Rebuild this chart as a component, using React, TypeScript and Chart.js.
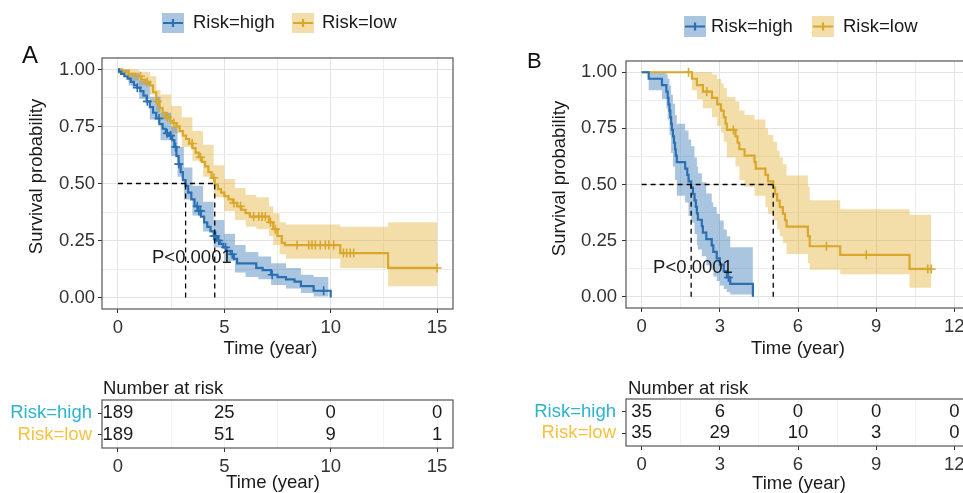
import React, { useEffect, useRef } from "react";
import { Chart, registerables } from "chart.js";

Chart.register(...registerables);

const FONT = "'Liberation Sans', Arial, Helvetica, sans-serif";
const FS = 18.5;

// ---------------- shared text ----------------
const groupLabels = ["Risk=high", "Risk=low"];
const pValueText = "P<0.0001";
const xTitleText = "Time (year)";
const yTitleText = "Survival probability";
const tableTitleText = "Number at risk";
const yMajor = [0, 0.25, 0.5, 0.75, 1];
const yMinor = [0.125, 0.375, 0.625, 0.875];

// ---------------- Panel A data ----------------
const aXMajor = [0, 5, 10, 15];
const aXMinor = [2.5, 7.5, 12.5];

const aHighTime = [0, 0.05, 0.15, 0.3, 0.45, 0.6, 0.75, 0.9, 1.05, 1.2, 1.35, 1.5, 1.65, 1.8, 1.95, 2.1, 2.25, 2.4, 2.55, 2.65, 2.75, 2.85, 2.95, 3.05, 3.18, 3.3, 3.45, 3.6, 3.75, 3.9, 4.05, 4.2, 4.35, 4.5, 4.65, 4.8, 4.95, 5.1, 5.3, 5.45, 5.6, 6.5, 6.8, 7.2, 7.5, 7.9, 8.3, 8.6, 9.2, 10.0];
const aHighSurv = [1, 0.99, 0.98, 0.97, 0.96, 0.945, 0.93, 0.92, 0.905, 0.885, 0.86, 0.835, 0.81, 0.785, 0.76, 0.74, 0.72, 0.71, 0.69, 0.66, 0.62, 0.585, 0.55, 0.515, 0.49, 0.46, 0.43, 0.4, 0.38, 0.355, 0.33, 0.31, 0.29, 0.27, 0.25, 0.235, 0.22, 0.205, 0.19, 0.17, 0.15, 0.13, 0.12, 0.1, 0.09, 0.08, 0.07, 0.05, 0.03, 0];
const aHighBandTime = [0, 0.5, 1.0, 1.5, 2.0, 2.5, 2.8, 3.1, 3.5, 4.0, 4.5, 5.0, 5.5, 6.0, 6.6, 7.2, 7.9, 8.6, 9.2, 9.9];
const aHighLower = [0.985, 0.93, 0.87, 0.78, 0.69, 0.62, 0.53, 0.43, 0.36, 0.29, 0.22, 0.16, 0.11, 0.09, 0.08, 0.055, 0.04, 0.02, 0.005, 0.005];
const aHighUpper = [1, 0.985, 0.95, 0.88, 0.81, 0.75, 0.66, 0.57, 0.49, 0.42, 0.34, 0.28, 0.23, 0.2, 0.18, 0.15, 0.13, 0.1, 0.09, 0.09];
const aHighCensor = [0.91, 1.38, 1.93, 2.32, 2.47, 2.71, 2.86, 3.73, 3.8, 3.88, 4.51, 4.59, 4.74, 5.06, 5.37, 7.25, 9.67];

const aLowTime = [0, 0.2, 0.5, 0.8, 1.1, 1.3, 1.5, 1.65, 1.8, 1.95, 2.1, 2.3, 2.45, 2.6, 2.75, 2.9, 3.05, 3.2, 3.35, 3.5, 3.65, 3.8, 3.95, 4.1, 4.25, 4.4, 4.55, 4.7, 4.85, 5.0, 5.2, 5.4, 5.6, 5.8, 6.0, 6.2, 7.1, 7.3, 7.5, 7.7, 7.85, 10.45, 12.7, 15.0];
const aLowSurv = [1, 0.99, 0.98, 0.97, 0.955, 0.945, 0.93, 0.9, 0.86, 0.83, 0.81, 0.79, 0.775, 0.765, 0.75, 0.73, 0.71, 0.695, 0.675, 0.655, 0.635, 0.615, 0.595, 0.575, 0.55, 0.525, 0.495, 0.475, 0.46, 0.445, 0.43, 0.415, 0.4, 0.385, 0.37, 0.355, 0.33, 0.3, 0.27, 0.24, 0.23, 0.195, 0.13, 0.13];
const aLowBandTime = [0, 0.5, 1.0, 1.5, 1.8, 2.0, 2.5, 3.0, 3.5, 4.0, 4.5, 5.0, 5.5, 6.0, 6.5, 7.1, 7.3, 7.6, 7.9, 10.45, 12.7, 15.0];
const aLowLower = [0.98, 0.95, 0.93, 0.89, 0.81, 0.78, 0.72, 0.66, 0.6, 0.53, 0.44, 0.38, 0.34, 0.31, 0.3, 0.27, 0.23, 0.19, 0.17, 0.13, 0.05, 0.05];
const aLowUpper = [1, 1, 0.99, 0.97, 0.91, 0.89, 0.84, 0.79, 0.73, 0.67, 0.58, 0.52, 0.48, 0.45, 0.44, 0.4, 0.37, 0.33, 0.32, 0.31, 0.33, 0.33];
const aLowCensor = [0.52, 1.06, 1.38, 1.85, 2.32, 2.63, 3.49, 3.88, 4.51, 5.45, 5.76, 6.38, 6.62, 6.78, 6.93, 7.17, 7.4, 8.42, 8.97, 9.12, 9.28, 9.51, 9.75, 9.91, 10.14, 10.6, 10.75, 10.92, 11.08, 15.0];

const aMedians = [3.18, 4.55];
const aPValuePos = [1.6, 0.175];
const aRiskTimes = [0, 5, 10, 15];
const aRiskHigh = [189, 25, 0, 0];
const aRiskLow = [189, 51, 9, 1];

// ---------------- Panel B data ----------------
const bXMajor = [0, 3, 6, 9, 12];
const bXMinor = [1.5, 4.5, 7.5, 10.5];

const bHighTime = [0, 0.27, 0.78, 0.95, 1.0, 1.03, 1.07, 1.1, 1.13, 1.16, 1.2, 1.24, 1.28, 1.31, 1.35, 1.67, 1.75, 1.8, 1.9, 1.97, 2.03, 2.08, 2.12, 2.16, 2.31, 2.35, 2.48, 2.69, 2.75, 2.88, 3.0, 3.15, 3.27, 3.4, 4.27];
const bHighSurv = [1, 0.971, 0.943, 0.914, 0.886, 0.857, 0.829, 0.8, 0.771, 0.743, 0.714, 0.686, 0.657, 0.629, 0.6, 0.571, 0.543, 0.514, 0.486, 0.457, 0.429, 0.4, 0.371, 0.343, 0.314, 0.286, 0.257, 0.229, 0.2, 0.171, 0.143, 0.114, 0.086, 0.057, 0];
const bHighBandTime = [0, 0.27, 0.78, 0.95, 1.0, 1.07, 1.13, 1.2, 1.28, 1.35, 1.67, 1.8, 1.9, 2.03, 2.12, 2.16, 2.31, 2.48, 2.69, 2.75, 2.88, 3.0, 3.15, 3.27, 3.4, 4.27];
const bHighLower = [1, 0.92, 0.88, 0.84, 0.79, 0.72, 0.64, 0.58, 0.52, 0.45, 0.42, 0.36, 0.33, 0.28, 0.23, 0.21, 0.18, 0.14, 0.12, 0.09, 0.07, 0.05, 0.035, 0.02, 0.01, 0.01];
const bHighUpper = [1, 1, 1, 0.99, 0.97, 0.94, 0.9, 0.86, 0.81, 0.77, 0.74, 0.7, 0.67, 0.62, 0.58, 0.55, 0.51, 0.46, 0.42, 0.4, 0.37, 0.34, 0.3, 0.27, 0.22, 0.22];
const bHighCensor = [3.33];

const bLowTime = [0, 1.93, 2.12, 2.35, 2.7, 2.9, 3.05, 3.15, 3.22, 3.27, 3.6, 3.68, 3.75, 3.95, 4.33, 4.38, 4.75, 4.85, 5.05, 5.12, 5.2, 5.3, 5.42, 5.5, 5.56, 6.38, 6.45, 7.62, 10.28, 11.11];
const bLowSurv = [1, 0.971, 0.943, 0.914, 0.886, 0.857, 0.829, 0.8, 0.771, 0.743, 0.714, 0.686, 0.657, 0.629, 0.6, 0.571, 0.543, 0.514, 0.486, 0.457, 0.428, 0.399, 0.37, 0.341, 0.312, 0.27, 0.225, 0.187, 0.124, 0.124];
const bLowBandTime = [0, 1.93, 2.12, 2.35, 2.7, 2.9, 3.05, 3.15, 3.27, 3.6, 3.75, 3.95, 4.33, 4.75, 4.85, 5.05, 5.2, 5.3, 5.42, 5.56, 6.38, 6.45, 7.62, 10.28, 11.11];
const bLowLower = [1, 0.92, 0.88, 0.84, 0.8, 0.76, 0.73, 0.69, 0.62, 0.58, 0.52, 0.49, 0.45, 0.4, 0.37, 0.34, 0.3, 0.27, 0.24, 0.19, 0.15, 0.12, 0.1, 0.04, 0.04];
const bLowUpper = [1, 1, 1, 1, 0.99, 0.97, 0.95, 0.93, 0.89, 0.87, 0.83, 0.81, 0.79, 0.75, 0.72, 0.69, 0.65, 0.62, 0.59, 0.54, 0.49, 0.43, 0.39, 0.365, 0.365];
const bLowCensor = [1.8, 2.5, 3.52, 7.09, 8.62, 10.98, 11.11];

const bMedians = [1.9, 5.05];
const bPValuePos = [0.44, 0.129];
const bRiskTimes = [0, 3, 6, 9, 12];
const bRiskHigh = [35, 6, 0, 0, 0];
const bRiskLow = [35, 29, 10, 3, 0];

// ---------------- styles ----------------
const lineColors = ["#2A6FB2", "#D9A72B"];
const bandColors = ["rgba(42,111,178,0.40)", "rgba(224,172,40,0.40)"];
const rowLabelColors = ["#2DB4CA", "#F5C241"];
const gridMajor = "#E3E3E3";
const gridMinor = "#EDEDED";
const axisText = "#333333";

type Curve = { t: number[]; s: number[]; bt: number[]; lo: number[]; hi: number[]; censor: number[] };
type Panel = {
  letter: string;
  xLim: number;
  xMajor: number[];
  xMinor: number[];
  curves: Curve[];
  medians: number[];
  pPos: number[];
  riskTimes: number[];
  riskRows: number[][];
  km: { left: number; top: number; w: number; h: number; areaTop: number; yW: number; rightPad: number; xH: number; yTickPad: number;
    letterX: number; letterY: number; letterSize: number; legendBoxX: number[]; legendBoxY: number; legendBoxW: number; legendBoxH: number; legendTextX: number[];
    yTitleX: number; yTitleY: number; xTitleX: number; xTitleY: number };
  table: { left: number; top: number; w: number; h: number; areaTop: number; yW: number; rightPad: number; xH: number; xTitleX: number; xTitleY: number; titleX: number; titleY: number };
};

const panels: Panel[] = [
  {
    letter: "A", xLim: 15, xMajor: aXMajor, xMinor: aXMinor,
    curves: [
      { t: aHighTime, s: aHighSurv, bt: aHighBandTime, lo: aHighLower, hi: aHighUpper, censor: aHighCensor },
      { t: aLowTime, s: aLowSurv, bt: aLowBandTime, lo: aLowLower, hi: aLowUpper, censor: aLowCensor },
    ],
    medians: aMedians, pPos: aPValuePos, riskTimes: aRiskTimes, riskRows: [aRiskHigh, aRiskLow],
    km: { left: 0, top: 0, w: 480, h: 360, areaTop: 58, yW: 102, rightPad: 27, xH: 51, yTickPad: 3,
      letterX: 22, letterY: 63, letterSize: 24, legendBoxX: [162, 292], legendBoxY: 13, legendBoxW: 22, legendBoxH: 20, legendTextX: [193, 322],
      yTitleX: 37, yTitleY: 176.5, xTitleX: 270.5, xTitleY: 349 },
    table: { left: 0, top: 360, w: 480, h: 133, areaTop: 40, yW: 102, rightPad: 27, xH: 45, xTitleX: 273, xTitleY: 123, titleX: 103, titleY: 34 },
  },
  {
    letter: "B", xLim: 12, xMajor: bXMajor, xMinor: bXMinor,
    curves: [
      { t: bHighTime, s: bHighSurv, bt: bHighBandTime, lo: bHighLower, hi: bHighUpper, censor: bHighCensor },
      { t: bLowTime, s: bLowSurv, bt: bLowBandTime, lo: bLowLower, hi: bLowUpper, censor: bLowCensor },
    ],
    medians: bMedians, pPos: bPValuePos, riskTimes: bRiskTimes, riskRows: [bRiskHigh, bRiskLow],
    km: { left: 480, top: 0, w: 510, h: 360, areaTop: 61, yW: 146, rightPad: 20, xH: 52, yTickPad: 5,
      letterX: 47, letterY: 68, letterSize: 22, legendBoxX: [204, 332], legendBoxY: 16, legendBoxW: 22, legendBoxH: 21, legendTextX: [231, 363],
      yTitleX: 80, yTitleY: 178.5, xTitleX: 318, xTitleY: 349 },
    table: { left: 480, top: 360, w: 510, h: 133, areaTop: 39, yW: 146, rightPad: 20, xH: 47, xTitleX: 319, xTitleY: 124, titleX: 148, titleY: 34 },
  },
];

// ---------------- helpers ----------------
const pts = (xs: number[], ys: number[]) => xs.map((x, i) => ({ x, y: ys[i] }));
function survAt(ts: number[], ss: number[], t: number) {
  let v = ss[0];
  for (let i = 0; i < ts.length; i++) if (ts[i] <= t) v = ss[i];
  return v;
}
const font = (size = FS) => ({ family: FONT, size });

function xScale(p: Panel, xH: number, withMinorTicks: boolean, gMaj: string, gMin: string) {
  const all = [...p.xMajor, ...p.xMinor].sort((a, b) => a - b);
  const isMaj = (v: number) => p.xMajor.includes(v);
  return {
    type: "linear",
    min: -0.05 * p.xLim,
    max: 1.05 * p.xLim,
    afterBuildTicks: (s: any) => { s.ticks = all.map((v) => ({ value: v })); },
    afterFit: (s: any) => { s.height = xH; },
    ticks: { autoSkip: false, maxRotation: 0, padding: 4, color: axisText, font: font(), callback: (v: any) => (isMaj(v) ? String(v) : "") },
    grid: {
      color: (c: any) => (c.tick && isMaj(c.tick.value) ? gMaj : gMin),
      tickColor: (c: any) => (c.tick && isMaj(c.tick.value) ? axisText : "rgba(0,0,0,0)"),
      tickLength: 4, lineWidth: 1,
    },
    border: { display: false },
    title: { display: false },
  };
}

function kmConfig(p: Panel): any {
  const L = p.km;
  const datasets: any[] = [];
  // dashed median lines (top)
  const dash = { borderColor: "#000", borderWidth: 1.3, borderDash: [5, 4], pointRadius: 0, fill: false };
  datasets.push({ ...dash, data: [{ x: 0, y: 0.5 }, { x: Math.max(...p.medians), y: 0.5 }] });
  p.medians.forEach((m) => datasets.push({ ...dash, data: [{ x: m, y: 0 }, { x: m, y: 0.5 }] }));
  // survival lines
  p.curves.forEach((c, i) =>
    datasets.push({ data: pts(c.t, c.s), stepped: true, borderColor: lineColors[i], borderWidth: 2.2, pointRadius: 0, fill: false })
  );
  // censor marks
  p.curves.forEach((c, i) =>
    datasets.push({
      data: c.censor.map((t) => ({ x: t, y: survAt(c.t, c.s, t) })),
      showLine: false, pointStyle: "cross", pointRadius: 4.5, pointBorderWidth: 1.6,
      pointBorderColor: lineColors[i], borderColor: lineColors[i], fill: false,
    })
  );
  // confidence bands (bottom)
  p.curves.forEach((c, i) => {
    datasets.push({ data: pts(c.bt, c.hi), stepped: true, borderWidth: 0, borderColor: "rgba(0,0,0,0)", pointRadius: 0, fill: false });
    datasets.push({ data: pts(c.bt, c.lo), stepped: true, borderWidth: 0, borderColor: "rgba(0,0,0,0)", pointRadius: 0, fill: "-1", backgroundColor: bandColors[i] });
  });

  const yAll = [...yMajor, ...yMinor].sort((a, b) => a - b);
  const isYMaj = (v: number) => yMajor.includes(v);

  const decor = {
    id: "kmDecor",
    afterDraw(chart: any) {
      const { ctx, chartArea: ca, scales } = chart;
      ctx.save();
      ctx.strokeStyle = "#555555";
      ctx.lineWidth = 1.2;
      ctx.strokeRect(ca.left, ca.top, ca.right - ca.left, ca.bottom - ca.top);
      // p-value
      ctx.fillStyle = "#1a1a1a";
      ctx.font = `${FS}px ${FONT}`;
      ctx.textAlign = "left";
      ctx.textBaseline = "middle";
      ctx.fillText(pValueText, scales.x.getPixelForValue(p.pPos[0]), scales.y.getPixelForValue(p.pPos[1]));
      // axis titles
      ctx.fillStyle = "#1a1a1a";
      ctx.textAlign = "center";
      ctx.fillText(xTitleText, L.xTitleX, L.xTitleY);
      ctx.save();
      ctx.translate(L.yTitleX, L.yTitleY);
      ctx.rotate(-Math.PI / 2);
      ctx.fillText(yTitleText, 0, 0);
      ctx.restore();
      // legend
      groupLabels.forEach((g, i) => {
        const bx = L.legendBoxX[i], by = L.legendBoxY, bw = L.legendBoxW, bh = L.legendBoxH;
        ctx.fillStyle = bandColors[i];
        ctx.fillRect(bx, by, bw, bh);
        const cy = by + bh / 2;
        ctx.strokeStyle = lineColors[i];
        ctx.lineWidth = 2.2;
        ctx.beginPath();
        ctx.moveTo(bx + 1, cy);
        ctx.lineTo(bx + bw - 1, cy);
        ctx.moveTo(bx + bw / 2, cy - 4);
        ctx.lineTo(bx + bw / 2, cy + 4);
        ctx.stroke();
        ctx.fillStyle = "#1a1a1a";
        ctx.textAlign = "left";
        ctx.textBaseline = "middle";
        ctx.font = `${FS}px ${FONT}`;
        ctx.fillText(g, L.legendTextX[i], cy);
      });
      // panel letter
      ctx.fillStyle = "#111";
      ctx.font = `${L.letterSize}px ${FONT}`;
      ctx.textAlign = "left";
      ctx.textBaseline = "alphabetic";
      ctx.fillText(p.letter, L.letterX, L.letterY);
      ctx.restore();
    },
  };

  return {
    type: "line",
    data: { datasets },
    plugins: [decor],
    options: {
      responsive: false,
      animation: false,
      events: [],
      parsing: true,
      layout: { padding: { top: L.areaTop, left: 0, right: L.rightPad, bottom: 0 } },
      plugins: { legend: { display: false }, tooltip: { enabled: false }, title: { display: false } },
      scales: {
        x: xScale(p, L.xH, true, gridMajor, gridMinor),
        y: {
          type: "linear",
          min: -0.05,
          max: 1.05,
          afterBuildTicks: (s: any) => { s.ticks = yAll.map((v) => ({ value: v })); },
          afterFit: (s: any) => { s.width = L.yW; },
          ticks: { autoSkip: false, padding: L.yTickPad, color: axisText, font: font(), callback: (v: any) => (isYMaj(v) ? Number(v).toFixed(2) : "") },
          grid: {
            color: (c: any) => (c.tick && isYMaj(c.tick.value) ? gridMajor : gridMinor),
            tickColor: (c: any) => (c.tick && isYMaj(c.tick.value) ? axisText : "rgba(0,0,0,0)"),
            tickLength: 4, lineWidth: 1,
          },
          border: { display: false },
          title: { display: false },
        },
      },
    },
  };
}

function tableConfig(p: Panel): any {
  const L = p.table;
  const rowValues = [2, 1];
  const datasets = p.riskRows.map((row, r) => ({
    data: p.riskTimes.map((t) => ({ x: t, y: rowValues[r] })),
    counts: row,
    showLine: false,
    pointRadius: 0,
  }));
  const decor = {
    id: "tableDecor",
    afterDraw(chart: any) {
      const { ctx, chartArea: ca } = chart;
      ctx.save();
      ctx.strokeStyle = "#555555";
      ctx.lineWidth = 1.2;
      ctx.strokeRect(ca.left, ca.top, ca.right - ca.left, ca.bottom - ca.top);
      ctx.font = `${FS}px ${FONT}`;
      ctx.fillStyle = "#1a1a1a";
      ctx.textAlign = "center";
      ctx.textBaseline = "middle";
      chart.data.datasets.forEach((ds: any, di: number) => {
        const meta = chart.getDatasetMeta(di);
        meta.data.forEach((el: any, j: number) => ctx.fillText(String(ds.counts[j]), el.x, el.y));
      });
      ctx.fillText(xTitleText, L.xTitleX, L.xTitleY);
      ctx.textAlign = "left";
      ctx.textBaseline = "alphabetic";
      ctx.fillText(tableTitleText, L.titleX, L.titleY);
      ctx.restore();
    },
  };
  return {
    type: "scatter",
    data: { datasets },
    plugins: [decor],
    options: {
      responsive: false,
      animation: false,
      events: [],
      layout: { padding: { top: L.areaTop, left: 0, right: L.rightPad, bottom: 0 } },
      plugins: { legend: { display: false }, tooltip: { enabled: false }, title: { display: false } },
      scales: {
        x: xScale(p, L.xH, false, "#F1F1F1", "#F4F4F4"),
        y: {
          type: "linear",
          min: 0.4,
          max: 2.6,
          afterBuildTicks: (s: any) => { s.ticks = rowValues.map((v) => ({ value: v })); },
          afterFit: (s: any) => { s.width = L.yW; },
          ticks: {
            autoSkip: false, padding: 6, font: font(),
            color: (c: any) => (c.tick && c.tick.value === 2 ? rowLabelColors[0] : rowLabelColors[1]),
            callback: (v: any) => (v === 2 ? groupLabels[0] : groupLabels[1]),
          },
          grid: { drawOnChartArea: false, tickColor: axisText, tickLength: 4 },
          border: { display: false },
          title: { display: false },
        },
      },
    },
  };
}

function ChartCanvas({ config, box }: { config: any; box: { left: number; top: number; w: number; h: number } }) {
  const ref = useRef<HTMLCanvasElement | null>(null);
  useEffect(() => {
    if (!ref.current) return;
    const chart = new Chart(ref.current, config);
    return () => chart.destroy();
  }, [config]);
  return (
    <canvas
      ref={ref}
      width={box.w}
      height={box.h}
      style={{ position: "absolute", left: box.left, top: box.top, width: box.w, height: box.h }}
    />
  );
}

const configs = panels.map((p) => ({ km: kmConfig(p), table: tableConfig(p) }));

export default function App() {
  return (
    <div style={{ position: "absolute", left: 0, top: 0, width: 963, height: 493, overflow: "hidden", background: "#ffffff" }}>
      {panels.map((p, i) => (
        <React.Fragment key={p.letter}>
          <ChartCanvas config={configs[i].km} box={p.km} />
          <ChartCanvas config={configs[i].table} box={p.table} />
        </React.Fragment>
      ))}
    </div>
  );
}
